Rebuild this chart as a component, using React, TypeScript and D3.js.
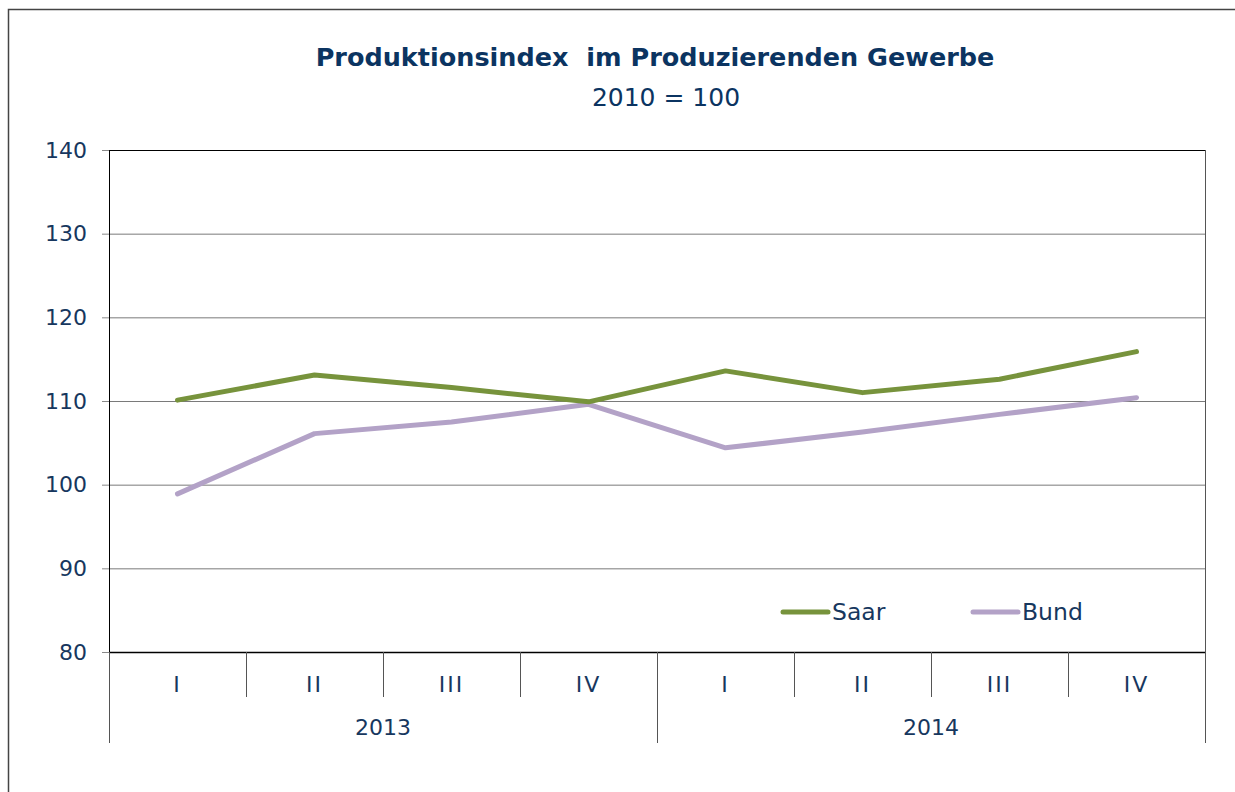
import React from "react";
import * as d3 from "d3";

const quarters = ["I", "II", "III", "IV", "I", "II", "III", "IV"];
const years = ["2013", "2014"];
const saar = [110.1, 113.1, 111.6, 109.9, 113.6, 111.0, 112.6, 115.9];
const bund = [98.9, 106.1, 107.5, 109.6, 104.4, 106.3, 108.4, 110.4];
const yTicks = [80, 90, 100, 110, 120, 130, 140];

const W = 1235, H = 792;
const L = 109, R = 1205, T = 150, B = 652;
const navy = "#17375E";
const font = "Verdana, 'DejaVu Sans', sans-serif";

export default function App() {
  const x = d3.scaleBand<number>().domain(d3.range(quarters.length)).range([L, R]);
  const y = d3.scaleLinear().domain([80, 140]).range([B, T]);
  const line = d3.line<number>().x((_, i) => x(i)! + x.bandwidth() / 2).y((d) => y(d));
  const yearScale = d3.scaleBand<number>().domain(d3.range(years.length)).range([L, R]);
  return (
    <svg width={W} height={H} style={{ position: "absolute", left: 0, top: 0, background: "#fff" }} fontFamily={font}>
      <rect x={8.5} y={9.5} width={1400} height={1000} fill="none" stroke="#444" strokeWidth={1.5} />
      <text x={655} y={66} textAnchor="middle" fontSize={25.5} fontWeight="bold" fill="#0B3461" style={{ whiteSpace: "pre" }}>{"Produktionsindex  im Produzierenden Gewerbe"}</text>
      <text x={666} y={106} textAnchor="middle" fontSize={25} fill="#0B3461">2010 = 100</text>
      {yTicks.map((t) => (
        <g key={t}>
          {t !== 80 && t !== 140 && <line x1={L} x2={R} y1={y(t) + 0.5} y2={y(t) + 0.5} stroke="#7a7a7a" strokeWidth={1} />}
          <line x1={102} x2={L} y1={y(t) + 0.5} y2={y(t) + 0.5} stroke="#888" strokeWidth={1} />
          <text x={87} y={y(t)} dy="0.35em" textAnchor="end" fontSize={22} fill={navy}>{t}</text>
        </g>
      ))}
      <line x1={L} x2={R} y1={T + 0.5} y2={T + 0.5} stroke="#000" strokeWidth={1} />
      <line x1={R + 0.5} x2={R + 0.5} y1={T} y2={B} stroke="#555" strokeWidth={1} />
      <line x1={L + 0.5} x2={L + 0.5} y1={T} y2={B} stroke="#000" strokeWidth={1} />
      <line x1={L} x2={R} y1={B + 0.5} y2={B + 0.5} stroke="#000" strokeWidth={1.3} />
      {d3.range(quarters.length + 1).map((i) => {
        const xx = i < quarters.length ? x(i)! : R;
        const long = i % 4 === 0;
        return <line key={"v" + i} x1={xx + 0.5} x2={xx + 0.5} y1={B} y2={long ? 743 : 697} stroke="#555" strokeWidth={1} />;
      })}
      {quarters.map((q, i) => (
        <text key={"q" + i} x={x(i)! + x.bandwidth() / 2} y={684} dy="0.35em" textAnchor="middle" fontSize={22} letterSpacing={2} fill={navy}>{q}</text>
      ))}
      {years.map((yr, i) => (
        <text key={yr} x={yearScale(i)! + yearScale.bandwidth() / 2} y={727} dy="0.35em" textAnchor="middle" fontSize={22} fill={navy}>{yr}</text>
      ))}
      <path d={line(bund)!} fill="none" stroke="#B3A2C7" strokeWidth={5} strokeLinecap="round" strokeLinejoin="round" />
      <path d={line(saar)!} fill="none" stroke="#77933C" strokeWidth={5} strokeLinecap="round" strokeLinejoin="round" />
      <line x1={783} x2={828} y1={612} y2={612} stroke="#77933C" strokeWidth={5} strokeLinecap="round" />
      <text x={832} y={612} dy="0.35em" fontSize={23.5} fill={navy}>Saar</text>
      <line x1={973} x2={1018} y1={612} y2={612} stroke="#B3A2C7" strokeWidth={5} strokeLinecap="round" />
      <text x={1022} y={612} dy="0.35em" fontSize={23.5} fill={navy}>Bund</text>
    </svg>
  );
}
